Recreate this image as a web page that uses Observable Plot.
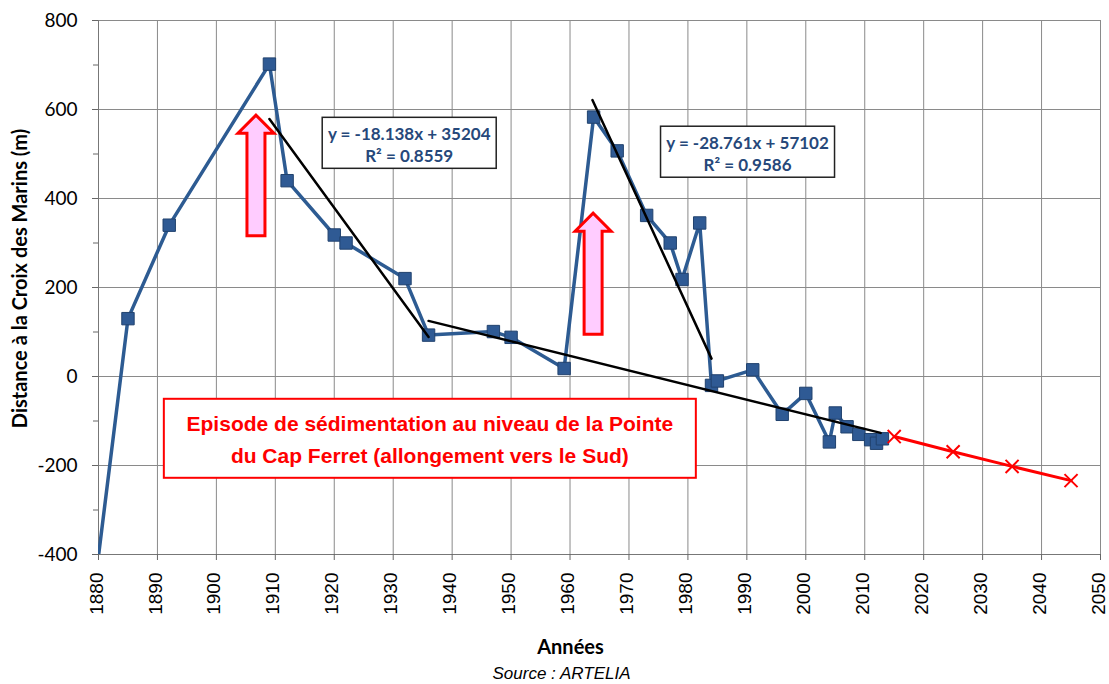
<!DOCTYPE html>
<html><head><meta charset="utf-8">
<script src="https://cdn.jsdelivr.net/npm/d3@7"></script>
<script src="https://cdn.jsdelivr.net/npm/@observablehq/plot@0.6"></script>
<style>body{margin:0;background:#fff}</style>
</head><body><div id="chart"></div>
<script>
// Observations (year, distance in m)
const years = [1879, 1885, 1892, 1909, 1912, 1920, 1922, 1932, 1936, 1947, 1950, 1959, 1964, 1968, 1973, 1977, 1979, 1982, 1984, 1985, 1991, 1996, 2000, 2004, 2005, 2007, 2009, 2011, 2012, 2013];
const distances = [-510, 130, 340, 702, 440, 318, 300, 220, 93, 101, 88, 18, 583, 507, 362, 300, 218, 345, -20, -10, 15, -85, -38, -147, -82, -113, -130, -142, -150, -140];
// Projection
const projYears = [2015, 2025, 2035, 2045];
const projValues = [-135, -169, -202, -234];
// Trend lines
const trendSlopes = [-18.138, -28.761, -3.28];
const trendIntercepts = [35204, 57102, 6475];
const trendFrom = [1909, 1963.8, 1936];
const trendTo = [1936, 1984, 2012.7];
// Equation labels
const eqLabels = ["y = -18.138x + 35204", "y = -28.761x + 57102"];
const r2Labels = ["R² = 0.8559", "R² = 0.9586"];
const eqYears = [1932.8, 1990.2];
const eqValues = [524, 504];
// Arrows (sedimentation episodes)
const arrowYears = [1906.8, 1964.0];
const arrowBase = [315, 94];
const arrowTip = [586, 366];
// Red annotation
const noteLines = ["Episode de sédimentation au niveau de la Pointe", "du Cap Ferret (allongement vers le Sud)"];
const noteYear = 1936.3, noteValue = -140;
// Axes
const xTicks = [1880,1890,1900,1910,1920,1930,1940,1950,1960,1970,1980,1990,2000,2010,2020,2030,2040,2050];
const yTicks = [-400,-200,0,200,400,600,800];
const yMinor = [-300,-100,100,300,500,700];
const yLabel = "Distance à la Croix des Marins (m)";
const xLabel = "Années";
const caption = "Source : ARTELIA";

const obs = years.map((y, i) => ({year: y, value: distances[i]}));
const proj = projYears.map((y, i) => ({year: y, value: projValues[i]}));
const trends = [];
trendSlopes.forEach((s, i) => {
  [trendFrom[i], trendTo[i]].forEach(x => trends.push({id: i, year: x, value: s * x + trendIntercepts[i]}));
});

const BLUE = "#2D5B92";

function arrowsMark(index, {x, y}) {
  const g = d3.create("svg:g");
  arrowYears.forEach((yr, i) => {
    const cx = x(yr), yb = y(arrowBase[i]), yt = y(arrowTip[i]);
    const sw = 9, hw = 18, hl = 18;
    const p = `M${cx-sw},${yb}L${cx-sw},${yt+hl}L${cx-hw},${yt+hl}L${cx},${yt}L${cx+hw},${yt+hl}L${cx+sw},${yt+hl}L${cx+sw},${yb}Z`;
    g.append("path").attr("d", p).attr("fill", "#FFCCFF").attr("stroke", "#FF0000").attr("stroke-width", 3);
  });
  return g.node();
}

function boxesMark(index, {x, y}) {
  const g = d3.create("svg:g");
  eqLabels.forEach((lab, i) => {
    const cx = x(eqYears[i]), cy = y(eqValues[i]);
    const w = 174, h = 51;
    g.append("rect").attr("x", cx - w/2).attr("y", cy - h/2).attr("width", w).attr("height", h)
      .attr("fill", "#fff").attr("stroke", "#222").attr("stroke-width", 1.5);
    const t = g.append("text").attr("text-anchor", "middle").attr("font-family", "Lato, 'Open Sans', sans-serif")
      .attr("font-weight", 700).attr("font-size", 17).attr("fill", "#26487A");
    t.append("tspan").attr("x", cx).attr("y", cy - 3).text(lab);
    t.append("tspan").attr("x", cx).attr("y", cy + 19).text(r2Labels[i]);
  });
  const nx = x(noteYear), ny = y(noteValue);
  const w = 532, h = 79;
  g.append("rect").attr("x", nx - w/2).attr("y", ny - h/2).attr("width", w).attr("height", h)
    .attr("fill", "#fff").attr("stroke", "#FF0000").attr("stroke-width", 2);
  const t = g.append("text").attr("text-anchor", "middle")
    .attr("font-family", "'Liberation Sans Narrow', 'Arial Narrow', 'Liberation Sans', Arial, sans-serif")
    .attr("font-weight", 700).attr("font-size", 21).attr("fill", "#FF0000");
  t.append("tspan").attr("x", nx).attr("y", ny - 7).text(noteLines[0]);
  t.append("tspan").attr("x", nx).attr("y", ny + 25).text(noteLines[1]);
  return g.node();
}

const chart = Plot.plot({
  width: 1109, height: 684,
  marginLeft: 98, marginRight: 9, marginTop: 20, marginBottom: 130,
  style: {fontFamily: "Lato, sans-serif", background: "#fff", color: "#000"},
  x: {domain: [1880, 2050]},
  y: {domain: [-400, 800]},
  marks: [
    Plot.gridX(xTicks, {stroke: "#8a8a8a", strokeOpacity: 1}),
    Plot.gridY(yTicks, {stroke: "#8a8a8a", strokeOpacity: 1}),
    Plot.ruleX([1880], {stroke: "#777"}),
    Plot.ruleY([-400], {stroke: "#777"}),
    Plot.axisX(xTicks, {tickSize: 6, stroke: "#666", fill: "none", label: null}),
    Plot.axisX(xTicks, {tickRotate: -90, tickFormat: d => String(d), fontSize: 19, fontFamily: "'Liberation Sans', Arial, sans-serif",
      tickSize: 6, tickPadding: 12, stroke: "none", fill: "#000", dx: -2, label: null}),
    Plot.axisY(yTicks, {tickFormat: d => String(d), fontSize: 19, fontFamily: "Lato, sans-serif", tickSize: 6, tickPadding: 15, stroke: "#666", fill: "#000", label: null}),
    Plot.axisY(yMinor, {tickSize: 5, stroke: "#666", fill: "none", label: null}),
    Plot.line(obs, {x: "year", y: "value", stroke: BLUE, strokeWidth: 3.5, clip: true}),
    Plot.dot(obs, {x: "year", y: "value", symbol: "square", r: 7, fill: "#2F5A94", stroke: "#21426E", strokeWidth: 1, clip: true}),
    Plot.line(proj, {x: "year", y: "value", stroke: "#FF0000", strokeWidth: 3}),
    Plot.dot(proj, {x: "year", y: "value", symbol: "times", r: 6, stroke: "#FF0000", strokeWidth: 2}),
    Plot.line(trends, {x: "year", y: "value", z: "id", stroke: "#000", strokeWidth: 2.5}),
    arrowsMark,
    boxesMark,
    Plot.text([yLabel], {frameAnchor: "left", rotate: -90, dx: -72, dy: -9, lineAnchor: "bottom", textAnchor: "middle",
      fontSize: 20, fontWeight: 700, fontFamily: "Lato, sans-serif", fill: "#000"}),
    Plot.text([xLabel], {frameAnchor: "bottom", dx: -29, dy: 99, lineAnchor: "bottom", textAnchor: "middle",
      fontSize: 20, fontWeight: 700, fontFamily: "Lato, sans-serif", fill: "#000"}),
    Plot.text([caption], {frameAnchor: "bottom", dx: -38, dy: 124, lineAnchor: "bottom", textAnchor: "middle",
      fontSize: 17, fontStyle: "italic", fontFamily: "'Liberation Sans', Arial, sans-serif", fill: "#000"})
  ]
});
document.getElementById("chart").appendChild(chart);
</script>
</body></html>
